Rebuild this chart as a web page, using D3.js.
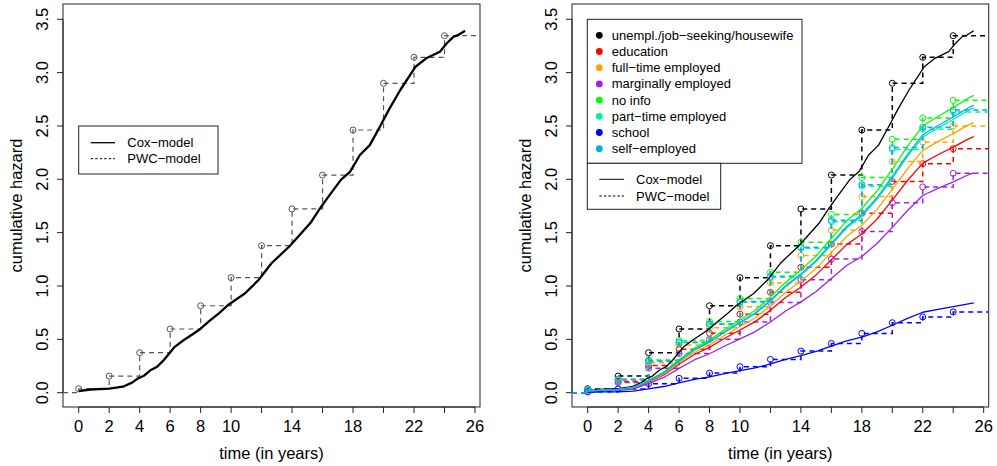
<!DOCTYPE html>
<html lang="en">
<head>
<meta charset="UTF-8">
<title>cumulative hazard</title>
<script src="https://cdn.jsdelivr.net/npm/d3@7"></script>
<style>
  body { margin: 0; background: #fff; }
  svg { display: block; font-family: "Liberation Sans", Arial, Helvetica, sans-serif; }
</style>
</head>
<body>
<svg id="chart" width="997" height="466"></svg>
<script>
// ---- data ----
const groups = ["unempl./job\u2212seeking/housewife", "education", "full\u2212time employed",
  "marginally employed", "no info", "part\u2212time employed", "school", "self\u2212employed"];
const groupColors = ["#000000", "#ff0000", "#ffa500", "#a020f0", "#00ff00", "#00f0a0", "#0000ff", "#0aa8f8"];

const xTicks = [0, 2, 4, 6, 8, 10, 12, 14, 16, 18, 20, 22, 24, 26];
const xTickLabels = [0, 2, 4, 6, 8, 10, 14, 18, 22, 26];
const yTicks = [0, 0.5, 1, 1.5, 2, 2.5, 3, 3.5];

// piecewise constant model: cumulative hazard at interval starts
const pwcTimes = [0, 2, 4, 6, 8, 10, 12, 14, 16, 18, 20, 22, 24];
const pwcUnempl    = [0.037, 0.156, 0.375, 0.597, 0.815, 1.078, 1.378, 1.722, 2.040, 2.462, 2.900, 3.143, 3.346];
const pwcEducation = [0.025, 0.106, 0.256, 0.408, 0.557, 0.736, 0.941, 1.176, 1.393, 1.681, 1.980, 2.146, 2.287];
const pwcFullTime  = [0.028, 0.116, 0.280, 0.446, 0.609, 0.805, 1.029, 1.286, 1.524, 1.839, 2.166, 2.347, 2.500];
const pwcMarginal  = [0.023, 0.095, 0.230, 0.367, 0.501, 0.662, 0.846, 1.058, 1.252, 1.511, 1.780, 1.929, 2.056];
const pwcNoInfo    = [0.030, 0.127, 0.307, 0.489, 0.667, 0.883, 1.128, 1.410, 1.671, 2.016, 2.375, 2.574, 2.740];
const pwcPartTime  = [0.029, 0.123, 0.295, 0.469, 0.641, 0.847, 1.083, 1.354, 1.603, 1.935, 2.279, 2.470, 2.630];
const pwcSchool    = [0.008, 0.035, 0.085, 0.135, 0.184, 0.244, 0.312, 0.390, 0.461, 0.556, 0.656, 0.710, 0.757];
const pwcSelfEmp   = [0.029, 0.124, 0.297, 0.473, 0.645, 0.854, 1.091, 1.364, 1.616, 1.950, 2.297, 2.489, 2.650];

// Cox model, baseline group (fine)
const coxTime = [0, 0.75, 2, 2.9, 3.5, 3.9, 4.25, 4.7, 5.15, 5.55, 5.95, 6.3, 6.9, 7.5, 8, 8.6, 9.2, 9.8,
  10.9, 11.8, 12.65, 13.85, 14.6, 15.2, 15.8, 16.4, 17.2, 17.8, 18.45, 19.1, 19.75, 20.4, 21.1, 21.75,
  22.1, 22.8, 23.7, 24.15, 24.6, 24.9, 25.35];
const coxUnempl = [0.015, 0.03, 0.038, 0.056, 0.094, 0.135, 0.156, 0.21, 0.244, 0.30, 0.37, 0.43, 0.494,
  0.55, 0.60, 0.675, 0.744, 0.822, 0.93, 1.056, 1.213, 1.375, 1.494, 1.59, 1.72, 1.84, 1.995, 2.07,
  2.228, 2.32, 2.49, 2.665, 2.837, 2.978, 3.055, 3.134, 3.196, 3.275, 3.337, 3.352, 3.393];

// Cox model, other groups (yearly)
const coxYears = [0, 1, 2, 3, 4, 5, 6, 7, 8, 9, 10, 11, 12, 13, 14, 15, 16, 17, 18, 19, 20, 21, 22, 23, 24, 25, 25.35];
const coxEducation = [0.011, 0.023, 0.027, 0.042, 0.099, 0.166, 0.266, 0.358, 0.425, 0.510, 0.588, 0.666, 0.772,
  0.892, 0.991, 1.104, 1.246, 1.388, 1.487, 1.628, 1.805, 1.989, 2.152, 2.230, 2.301, 2.379, 2.400];
const coxFullTime = [0.011, 0.025, 0.028, 0.045, 0.105, 0.176, 0.280, 0.377, 0.448, 0.538, 0.620, 0.702, 0.814,
  0.941, 1.046, 1.165, 1.315, 1.464, 1.569, 1.718, 1.905, 2.099, 2.271, 2.353, 2.428, 2.510, 2.532];
const coxMarginal = [0.009, 0.020, 0.023, 0.036, 0.085, 0.143, 0.228, 0.307, 0.365, 0.438, 0.505, 0.572, 0.663,
  0.766, 0.851, 0.948, 1.070, 1.192, 1.277, 1.398, 1.550, 1.708, 1.848, 1.915, 1.976, 2.043, 2.061];
const coxNoInfo = [0.012, 0.027, 0.031, 0.049, 0.115, 0.193, 0.308, 0.415, 0.493, 0.592, 0.682, 0.773, 0.896,
  1.036, 1.151, 1.282, 1.447, 1.611, 1.726, 1.891, 2.096, 2.310, 2.499, 2.589, 2.672, 2.762, 2.787];
const coxPartTime = [0.012, 0.026, 0.030, 0.047, 0.110, 0.185, 0.296, 0.398, 0.473, 0.567, 0.654, 0.741, 0.859,
  0.993, 1.103, 1.229, 1.387, 1.544, 1.655, 1.812, 2.009, 2.214, 2.396, 2.482, 2.561, 2.648, 2.671];
const coxSchool = [0.004, 0.008, 0.009, 0.015, 0.035, 0.058, 0.093, 0.125, 0.149, 0.179, 0.206, 0.233, 0.270,
  0.312, 0.347, 0.387, 0.436, 0.486, 0.521, 0.570, 0.632, 0.697, 0.754, 0.781, 0.806, 0.833, 0.841];
const coxSelfEmp = [0.012, 0.026, 0.030, 0.048, 0.111, 0.187, 0.298, 0.401, 0.477, 0.572, 0.660, 0.747, 0.867,
  1.002, 1.113, 1.240, 1.399, 1.558, 1.670, 1.829, 2.027, 2.234, 2.417, 2.504, 2.584, 2.671, 2.695];

const pwcAll = [pwcUnempl, pwcEducation, pwcFullTime, pwcMarginal, pwcNoInfo, pwcPartTime, pwcSchool, pwcSelfEmp];
const coxAll = [coxUnempl, coxEducation, coxFullTime, coxMarginal, coxNoInfo, coxPartTime, coxSchool, coxSelfEmp];

// ---- drawing ----
const svg = d3.select("#chart");
const FONT_AXIS = "16.5px";
const FONT_LEG = "13px";
const xDomain = [-1.03, 26.33];
const yDomain = [-0.134, 3.643];

function panel(left, right, id) {
  const x = d3.scaleLinear().domain(xDomain).range([left, right]);
  const y = d3.scaleLinear().domain(yDomain).range([407, 4]);
  const g = svg.append("g").attr("class", "panel-" + id);

  g.append("clipPath").attr("id", "clip-" + id)
    .append("rect").attr("x", left).attr("y", 4).attr("width", right - left).attr("height", 403);

  // x axis (R style)
  const ax = g.append("g").attr("class", "axis-x");
  ax.append("line").attr("x1", x(0)).attr("x2", x(26)).attr("y1", 407).attr("y2", 407).attr("stroke", "#222");
  ax.selectAll("line.tick").data(xTicks).enter().append("line").attr("class", "tick")
    .attr("x1", d => x(d)).attr("x2", d => x(d)).attr("y1", 407).attr("y2", 413).attr("stroke", "#222");
  ax.selectAll("text").data(xTickLabels).enter().append("text")
    .attr("x", d => x(d)).attr("y", 432).attr("text-anchor", "middle")
    .style("font-size", FONT_AXIS).text(d => d);

  // y axis
  const ay = g.append("g").attr("class", "axis-y");
  ay.append("line").attr("x1", left).attr("x2", left).attr("y1", y(0)).attr("y2", y(3.5)).attr("stroke", "#222");
  ay.selectAll("line.tick").data(yTicks).enter().append("line").attr("class", "tick")
    .attr("x1", left - 6).attr("x2", left).attr("y1", d => y(d)).attr("y2", d => y(d)).attr("stroke", "#222");
  ay.selectAll("text").data(yTicks).enter().append("text")
    .attr("transform", d => "translate(" + (left - 21) + "," + y(d) + ") rotate(-90)")
    .attr("dy", "0.35em").attr("text-anchor", "middle")
    .style("font-size", FONT_AXIS).text(d => d.toFixed(1));

  // axis titles
  g.append("text").attr("x", (left + right) / 2).attr("y", 459).attr("text-anchor", "middle")
    .style("font-size", FONT_AXIS).text("time (in years)");
  g.append("text").attr("transform", "translate(" + (left - 47) + "," + 205.5 + ") rotate(-90)")
    .attr("dy", "0.35em").attr("text-anchor", "middle")
    .style("font-size", FONT_AXIS).text("cumulative hazard");

  // box
  g.append("rect").attr("x", left).attr("y", 4).attr("width", right - left).attr("height", 403)
    .attr("fill", "none").attr("stroke", "#222").attr("stroke-width", 1);

  const plot = g.append("g").attr("clip-path", "url(#clip-" + id + ")");
  return { x, y, g, plot };
}

function drawPwc(p, values, color, width) {
  const pts = [[xDomain[0], 0]].concat(pwcTimes.map((t, i) => [t, values[i]]));
  pts.push([xDomain[1], values[values.length - 1]]);
  const line = d3.line().x(d => p.x(d[0])).y(d => p.y(d[1])).curve(d3.curveStepAfter);
  p.plot.append("path").datum(pts).attr("d", line)
    .attr("fill", "none").attr("stroke", color).attr("stroke-width", width)
    .attr("stroke-dasharray", "5,4");
  p.plot.append("g").selectAll("circle").data(pwcTimes).enter().append("circle")
    .attr("cx", t => p.x(t)).attr("cy", (t, i) => p.y(values[i])).attr("r", 3)
    .attr("fill", "none").attr("stroke", color).attr("stroke-width", 1);
}

function drawCox(p, times, values, color, width) {
  const line = d3.line().x((d, i) => p.x(times[i])).y(d => p.y(d));
  p.plot.append("path").datum(values).attr("d", line)
    .attr("fill", "none").attr("stroke", color).attr("stroke-width", width)
    .attr("stroke-linejoin", "round");
}

// left panel
const pL = panel(63, 480, "left");
drawPwc(pL, pwcUnempl, "#555", 1.2);
drawCox(pL, coxTime, coxUnempl, "#000", 2.3);

const legL = pL.g.append("g").attr("class", "legend");
legL.append("rect").attr("x", 78.7).attr("y", 126).attr("width", 139.3).attr("height", 48)
  .attr("fill", "#fff").attr("stroke", "#222");
legL.append("line").attr("x1", 90.7).attr("x2", 115).attr("y1", 142.7).attr("y2", 142.7)
  .attr("stroke", "#000").attr("stroke-width", 1.3);
legL.append("line").attr("x1", 90.7).attr("x2", 115).attr("y1", 158.7).attr("y2", 158.7)
  .attr("stroke", "#000").attr("stroke-width", 1).attr("stroke-dasharray", "2.5,2");
legL.append("text").attr("x", 127.3).attr("y", 142.7).attr("dy", "0.35em").style("font-size", FONT_LEG).text("Cox\u2212model");
legL.append("text").attr("x", 127.3).attr("y", 158.7).attr("dy", "0.35em").style("font-size", FONT_LEG).text("PWC\u2212model");

// right panel
const pR = panel(572, 988.7, "right");
groups.forEach((name, k) => {
  drawPwc(pR, pwcAll[k], groupColors[k], 1.5);
});
groups.forEach((name, k) => {
  const times = k === 0 ? coxTime : coxYears;
  drawCox(pR, times, coxAll[k], groupColors[k], 1.3);
});

const legR = pR.g.append("g").attr("class", "legend");
legR.append("rect").attr("x", 587.3).attr("y", 19.3).attr("width", 214.7).attr("height", 144)
  .attr("fill", "#fff").attr("stroke", "#222");
const items = legR.selectAll("g.item").data(groups).enter().append("g").attr("class", "item")
  .attr("transform", (d, i) => "translate(0," + (35.3 + i * 16.2) + ")");
items.append("circle").attr("cx", 599.3).attr("cy", 0).attr("r", 3.4).attr("fill", (d, i) => groupColors[i]);
items.append("text").attr("x", 611.7).attr("dy", "0.35em").style("font-size", FONT_LEG).text(d => d);

legR.append("rect").attr("x", 587.3).attr("y", 163.3).attr("width", 133.4).attr("height", 46)
  .attr("fill", "#fff").attr("stroke", "#222");
legR.append("line").attr("x1", 599.3).attr("x2", 624).attr("y1", 179.3).attr("y2", 179.3)
  .attr("stroke", "#000").attr("stroke-width", 1);
legR.append("line").attr("x1", 599.3).attr("x2", 624).attr("y1", 196).attr("y2", 196)
  .attr("stroke", "#000").attr("stroke-width", 1).attr("stroke-dasharray", "2.5,2");
legR.append("text").attr("x", 636).attr("y", 179.3).attr("dy", "0.35em").style("font-size", FONT_LEG).text("Cox\u2212model");
legR.append("text").attr("x", 636).attr("y", 196).attr("dy", "0.35em").style("font-size", FONT_LEG).text("PWC\u2212model");
</script>
</body>
</html>
